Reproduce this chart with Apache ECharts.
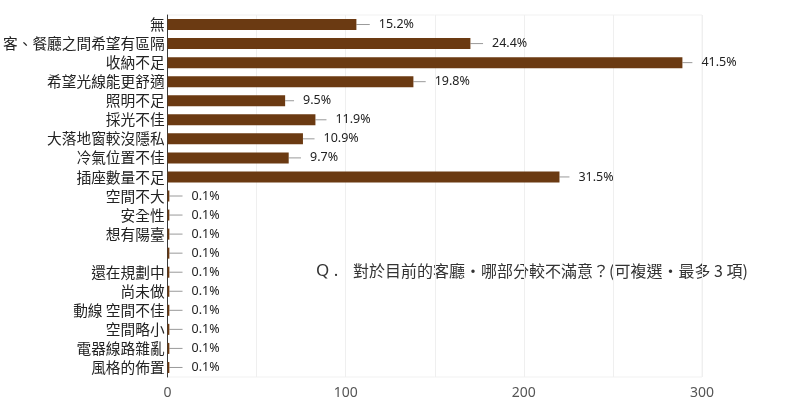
<!DOCTYPE html>
<html>
<head>
	<meta charset="UTF-8">
	<title>客廳不滿意項目</title>
	<style>
		html, body { margin: 0; padding: 0; background: #fff; }
		#display { width: 786px; height: 414px; }
	</style>
</head>
<body>
	<div id="display"></div>
	<script src="https://cdn.jsdelivr.net/npm/echarts@6/dist/echarts.min.js"></script>
	<script>
		// 項目
		var categories = ['無', '客、餐廳之間希望有區隔', '收納不足', '希望光線能更舒適', '照明不足',
			'採光不佳', '大落地窗較沒隱私', '冷氣位置不佳', '插座數量不足', '空間不大', '安全性',
			'想有陽臺', '', '還在規劃中', '尚未做', '動線 空間不佳', '空間略小', '電器線路雜亂', '風格的佈置'];
		// 人數
		var counts = [106, 170, 289, 138, 66, 83, 76, 68, 220, 1, 1, 1, 1, 1, 1, 1, 1, 1, 1];
		// 百分比標籤
		var percents = ['15.2%', '24.4%', '41.5%', '19.8%', '9.5%', '11.9%', '10.9%', '9.7%', '31.5%',
			'0.1%', '0.1%', '0.1%', '0.1%', '0.1%', '0.1%', '0.1%', '0.1%', '0.1%', '0.1%'];
		// 誤差線長度
		var errors = [7.5, 7.1, 5.6, 6.9, 5, 6.2, 6.5, 6.9, 5.6, 7.4, 7.4, 7.4, 7.4, 7.4, 7.4, 7.4, 7.4, 7.4, 7.4];
		// x 軸刻度
		var xTicks = [0, 100, 200, 300];

		var whiskerData = counts.map(function (v, i) {
			return [v, i, errors[i], percents[i]];
		});

		var option = {
			animation: false,
			grid: {
				left: 167, right: 84, top: 15, bottom: 37,
				show: true, borderColor: '#f1f1f1', borderWidth: 1
			},
			xAxis: {
				type: 'value',
				min: 0, max: 300, interval: 50,
				axisLine: { show: false },
				axisTick: { show: false },
				splitLine: { lineStyle: { color: '#efefef' } },
				axisLabel: {
					margin: 9,
					color: '#555',
					fontSize: 14,
					fontFamily: "'Noto Sans', sans-serif",
					showMaxLabel: true,
					formatter: function (v) {
						return xTicks.indexOf(v) >= 0 ? String(v) : '';
					}
				}
			},
			yAxis: {
				type: 'category',
				data: categories,
				inverse: true,
				axisTick: { show: false },
				axisLine: { lineStyle: { color: '#3a3a3a' } },
				axisLabel: {
					interval: 0,
					margin: 3,
					color: '#222',
					fontSize: 14.7,
					fontFamily: "'Noto Sans CJK TC', sans-serif"
				}
			},
			graphic: [{
				type: 'text', left: 316, top: 263,
				style: { text: 'Q .', fill: '#333', font: "17px 'Noto Sans', sans-serif" }
			}, {
				type: 'text', left: 353, top: 263,
				style: {
					text: '對於目前的客廳・哪部分較不滿意？(可複選・最多 3 項)',
					fill: '#333', font: "16px 'Noto Sans CJK TC', sans-serif"
				}
			}],
			series: [{
				type: 'bar',
				data: counts,
				barWidth: 11,
				itemStyle: { color: '#6b3a12' }
			}, {
				type: 'custom',
				data: whiskerData,
				encode: { x: 0, y: 1 },
				renderItem: function (params, api) {
					var v = api.value(0);
					var idx = api.value(1);
					var start = api.coord([v, idx]);
					var end = api.coord([v + api.value(2), idx]);
					return {
						type: 'group',
						children: [{
							type: 'line',
							shape: { x1: start[0], y1: start[1], x2: end[0], y2: end[1] },
							style: { stroke: '#9a9a9a', lineWidth: 1 }
						}, {
							type: 'text',
							style: {
								x: end[0] + 9, y: end[1],
								text: percents[params.dataIndex],
								fill: '#222',
								font: "12.5px 'Noto Sans', sans-serif",
								verticalAlign: 'middle'
							}
						}]
					};
				}
			}]
		};

		var myChart = echarts.init(document.getElementById('display'));
		myChart.setOption(option);
	</script>
</body>
</html>
